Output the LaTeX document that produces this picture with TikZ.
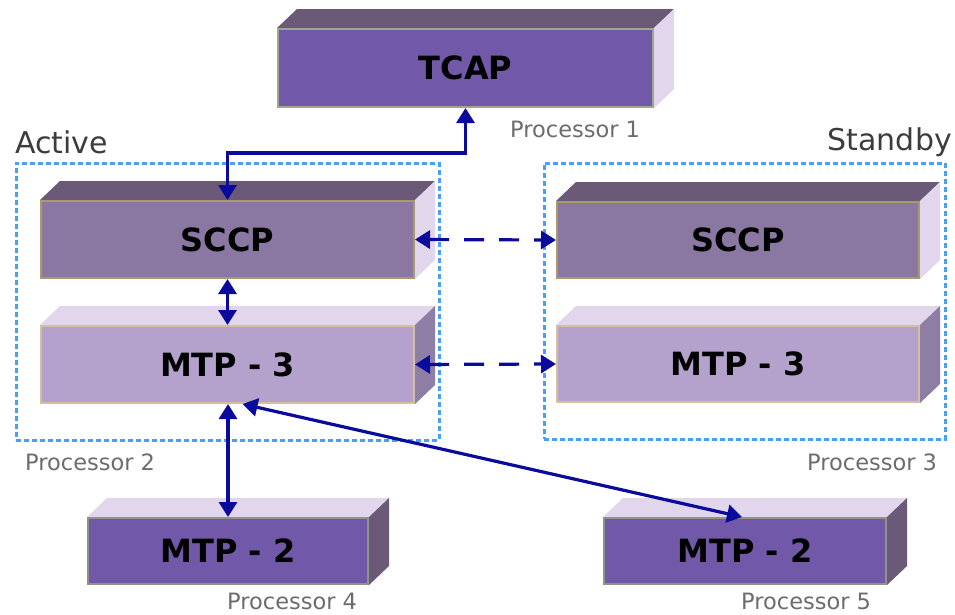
\documentclass[tikz,border=0pt]{standalone}
\usepackage{fontspec}
\setmainfont{DejaVu Sans}
\usetikzlibrary{arrows.meta}
\pgfdeclarelayer{bg}
\pgfsetlayers{bg,main}
\definecolor{tcapF}{HTML}{7258A8}
\definecolor{darkTop}{HTML}{6A5A78}
\definecolor{lightFace}{HTML}{E2D6EC}
\definecolor{sccpF}{HTML}{8A78A2}
\definecolor{mtpthreeF}{HTML}{B4A2CC}
\definecolor{mtpthreeR}{HTML}{8E7EA6}
\definecolor{bTcap}{HTML}{9AA890}
\definecolor{bSccp}{HTML}{A89A6C}
\definecolor{bMtpthree}{HTML}{D4C09C}
\definecolor{bMtptwo}{HTML}{8E9486}
\definecolor{arrowc}{HTML}{0A0A9C}
\definecolor{dashc}{HTML}{4AA0F5}
\definecolor{labc}{HTML}{6C6C6C}
\definecolor{glc}{HTML}{3C3C3C}
\tikzset{
  face/.style={draw, line width=2pt, inner sep=0pt, font=\fontsize{32}{38}\selectfont\bfseries, text=black},
  conn/.style={draw=arrowc, line width=3.2pt, {Triangle[length=15pt,width=18pt]}-{Triangle[length=15pt,width=18pt]}},
  dconn/.style={conn, dash pattern=on 20pt off 15pt},
  group/.style={draw=dashc, line width=3pt, dash pattern=on 5pt off 3pt, inner sep=0pt},
  plabel/.style={text=labc, font=\fontsize{22.5}{26}\selectfont, inner sep=0pt},
  glabel/.style={text=glc, font=\fontsize{30}{36}\selectfont, inner sep=0pt},
}
\newcommand\boxfaces[3]{%
  \begin{pgfonlayer}{bg}
    \fill[#2] (#1.north west) -- ++(20,-19) -- ([shift={(20,-19)}]#1.north east) -- (#1.north east) -- cycle;
    \fill[#3] (#1.north east) -- ++(20,-19) -- ([shift={(20,-19)}]#1.south east) -- (#1.south east) -- cycle;
  \end{pgfonlayer}}
\begin{document}
\begin{tikzpicture}[x=1pt,y=-1pt]
\useasboundingbox (0,0) rectangle (955,614);

% boxes (front faces)
\node[face, fill=tcapF, draw=bTcap, minimum width=375pt, minimum height=78pt] (tcap) at (465.5,68) {TCAP};
\boxfaces{tcap}{darkTop}{lightFace}
\node[face, fill=sccpF, draw=bSccp, minimum width=373pt, minimum height=77pt] (sccpA) at (227.5,239.5) {SCCP};
\boxfaces{sccpA}{darkTop}{lightFace}
\node[face, fill=mtpthreeF, draw=bMtpthree, minimum width=373pt, minimum height=77pt] (mtp3A) at (227.5,364.5) {MTP - 3};
\boxfaces{mtp3A}{lightFace}{mtpthreeR}
\node[face, fill=sccpF, draw=bSccp, minimum width=362pt, minimum height=76pt] (sccpS) at (738,240) {SCCP};
\boxfaces{sccpS}{darkTop}{lightFace}
\node[face, fill=mtpthreeF, draw=bMtpthree, minimum width=362pt, minimum height=76pt] (mtp3S) at (738,364) {MTP - 3};
\boxfaces{mtp3S}{lightFace}{mtpthreeR}
\node[face, fill=tcapF, draw=bMtptwo, minimum width=280pt, minimum height=66pt] (mtp2L) at (228,551) {MTP - 2};
\boxfaces{mtp2L}{lightFace}{darkTop}
\node[face, fill=tcapF, draw=bMtptwo, minimum width=282pt, minimum height=66pt] (mtp2R) at (745,551) {MTP - 2};
\boxfaces{mtp2R}{lightFace}{darkTop}

% groups
\node[group, minimum width=423pt, minimum height=277pt] (active) at (227.5,301.5) {};
\node[group, minimum width=401pt, minimum height=276pt] (standby) at (744.5,301) {};

% labels
\node[glabel, anchor=base west] (lact) at (15,153) {Active};
\node[glabel, anchor=base east] (lstb) at (952,150) {Standby};
\node[plabel, anchor=base west] (p1) at (510,137) {Processor 1};
\node[plabel, anchor=base west] (p2) at (25,470) {Processor 2};
\node[plabel, anchor=base west] (p3) at (807,470) {Processor 3};
\node[plabel, anchor=base west] (p4) at (227,609) {Processor 4};
\node[plabel, anchor=base west] (p5) at (741,609) {Processor 5};

% connectors
\coordinate (b1) at (465.5,153);
\draw[conn] (tcap.south) -- (b1) -| (sccpA.north);
\draw[conn] (sccpA.south) -- (mtp3A.north);
\draw[conn] (mtp3A.south -| mtp2L.north) -- (mtp2L.north);
\draw[conn] ([xshift=15pt]mtp3A.south) -- ([xshift=-3pt]mtp2R.north);
\draw[dconn] (sccpA.east) -- (sccpS.west);
\draw[dconn] (mtp3A.east) -- (mtp3S.west);
\end{tikzpicture}
\end{document}
